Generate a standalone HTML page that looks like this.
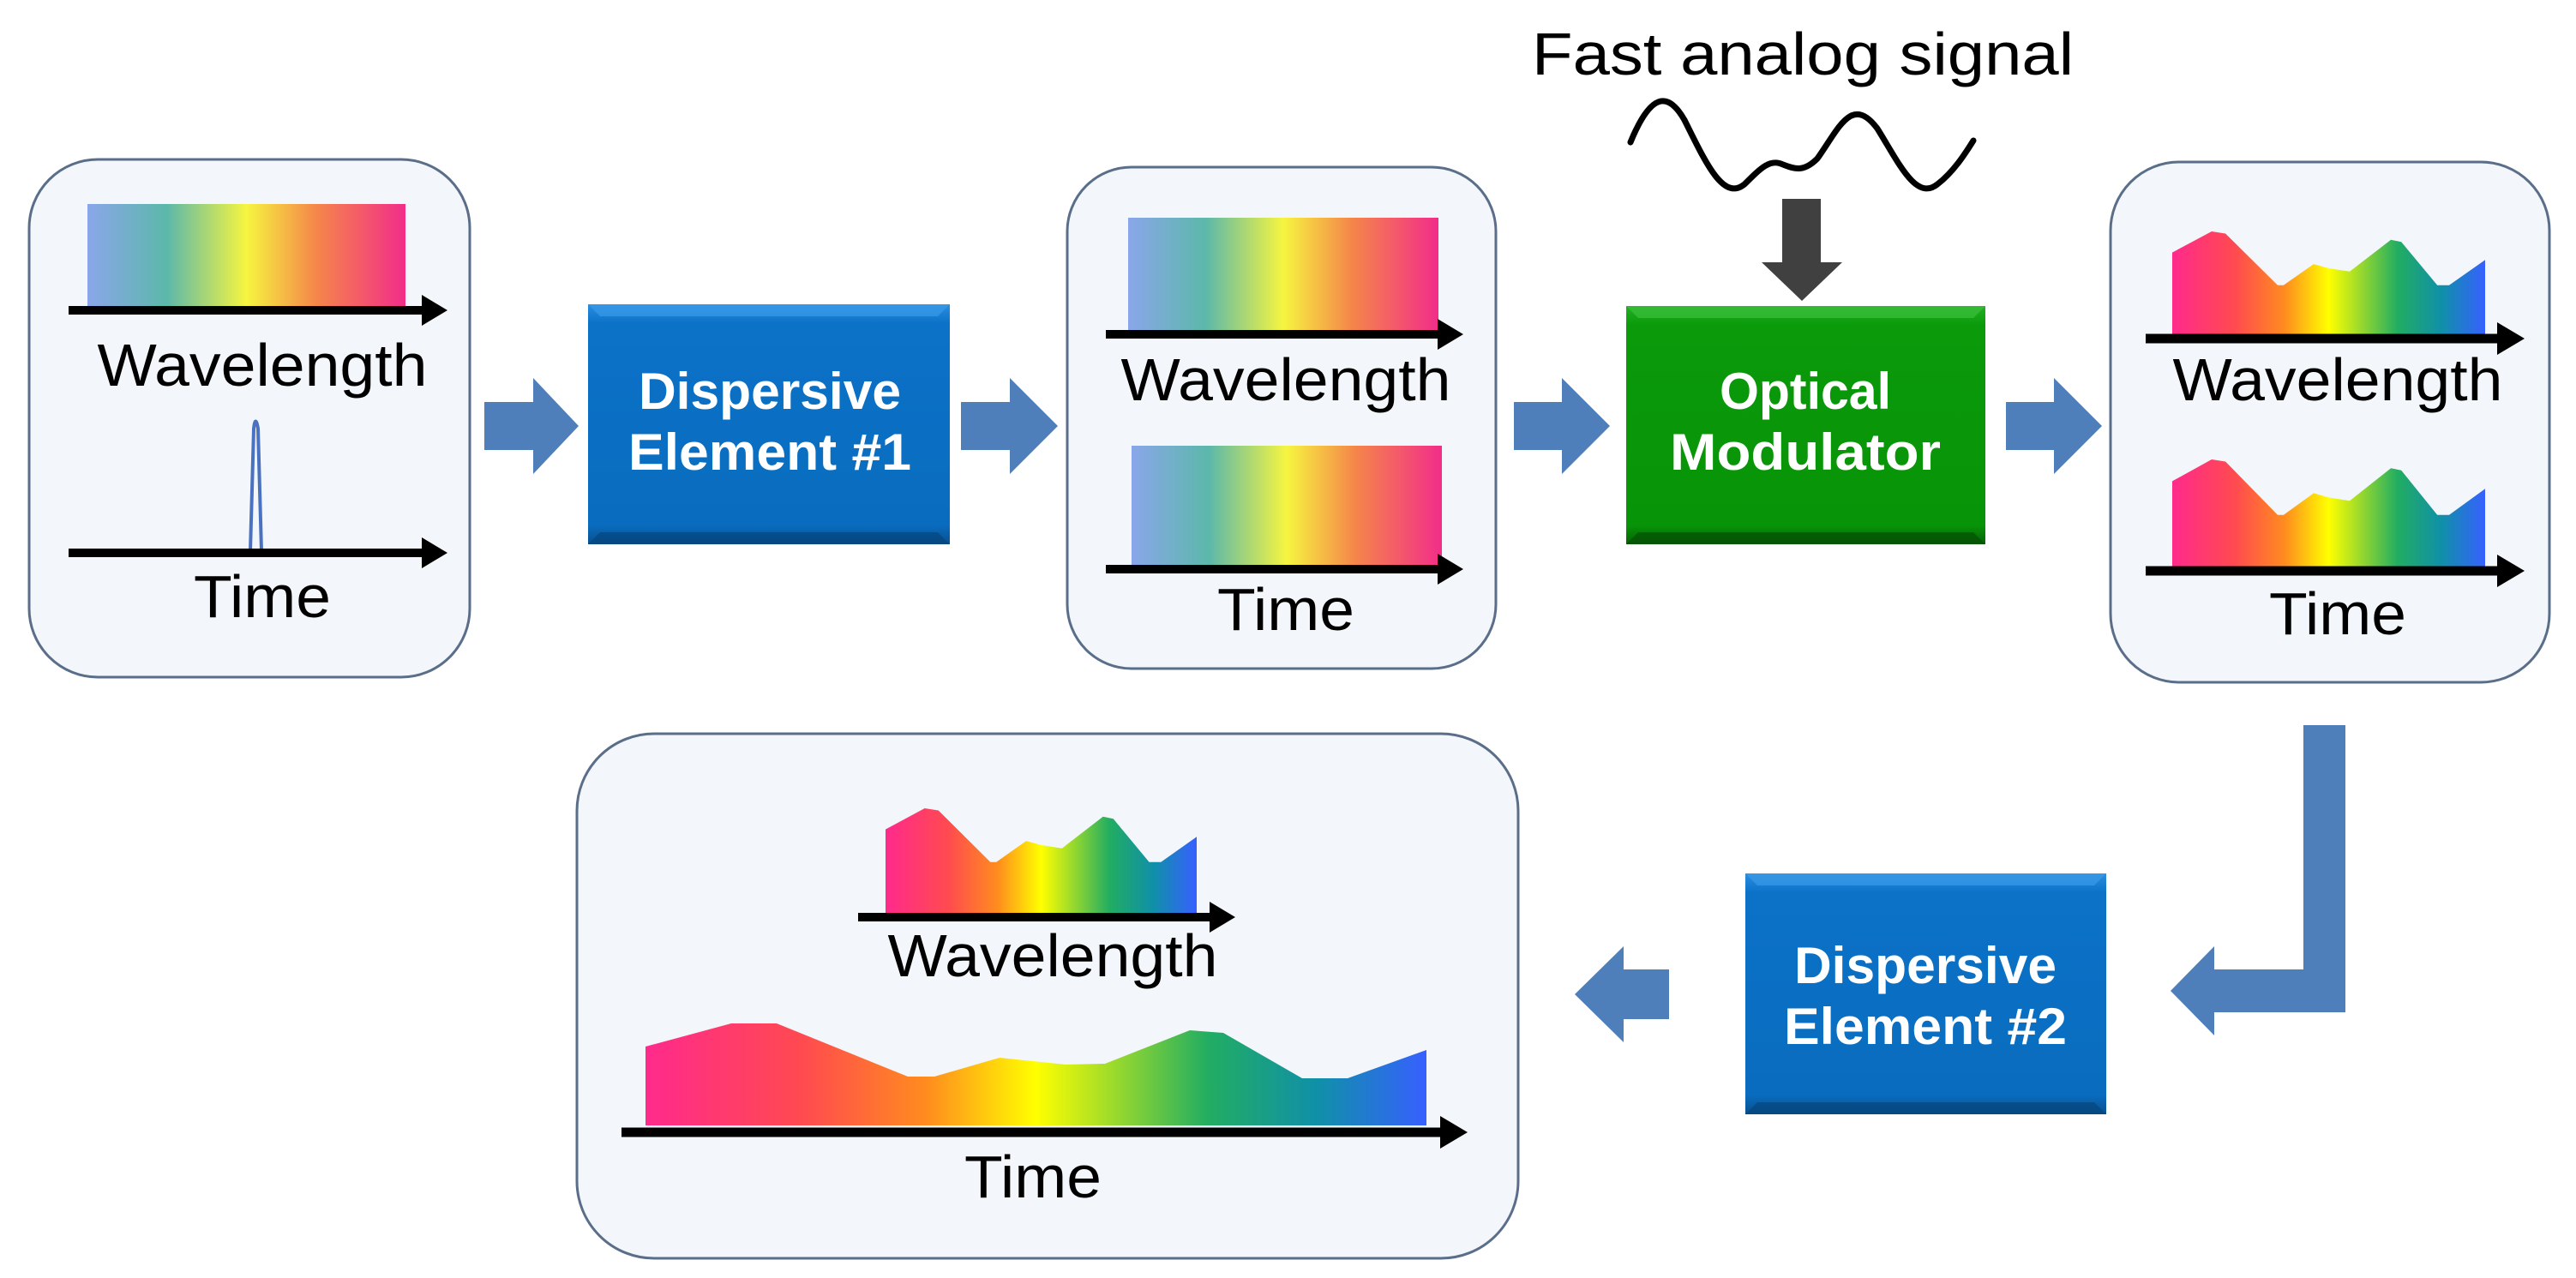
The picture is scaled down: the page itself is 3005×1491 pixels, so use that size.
<!DOCTYPE html>
<html><head><meta charset="utf-8"><style>
html,body{margin:0;padding:0;background:#fff;}
svg{display:block;}
text{font-family:"Liberation Sans",sans-serif;}
</style></head><body>
<svg id="s" width="3005" height="1491" viewBox="0 0 3005 1491" xmlns="http://www.w3.org/2000/svg">
<defs>
<linearGradient id="flat" x1="0" x2="1" y1="0" y2="0">
<stop offset="0" stop-color="#8aa6ea"/><stop offset="0.25" stop-color="#5cb8aa"/><stop offset="0.5" stop-color="#f6f540"/><stop offset="0.72" stop-color="#f5864a"/><stop offset="1" stop-color="#f22d8a"/>
</linearGradient>
<linearGradient id="spec" x1="0" x2="1" y1="0" y2="0">
<stop offset="0" stop-color="#ff2a8c"/><stop offset="0.2" stop-color="#ff4a50"/><stop offset="0.36" stop-color="#ff8c1e"/><stop offset="0.5" stop-color="#ffff00"/><stop offset="0.72" stop-color="#22ad62"/><stop offset="0.86" stop-color="#1090a8"/><stop offset="1" stop-color="#3760ff"/>
</linearGradient>
<linearGradient id="blueb" x1="0" x2="0" y1="0" y2="1">
<stop offset="0" stop-color="#2a8ee0"/><stop offset="0.08" stop-color="#0b72c8"/><stop offset="0.92" stop-color="#0a6cbe"/><stop offset="1" stop-color="#07508e"/>
</linearGradient>
<linearGradient id="greenb" x1="0" x2="0" y1="0" y2="1">
<stop offset="0" stop-color="#22b022"/><stop offset="0.08" stop-color="#0a9a0a"/><stop offset="0.92" stop-color="#089408"/><stop offset="1" stop-color="#056205"/>
</linearGradient>
</defs>

<!-- Boxes -->
<rect x="34" y="186" width="514" height="604" rx="80" fill="#f3f6fa" stroke="#5a6e8a" stroke-width="3"/>
<rect x="1245" y="195" width="500" height="585" rx="75" fill="#f3f6fa" stroke="#5a6e8a" stroke-width="3"/>
<rect x="2462" y="189" width="512" height="607" rx="80" fill="#f3f6fa" stroke="#5a6e8a" stroke-width="3"/>
<rect x="673" y="856" width="1098" height="612" rx="90" fill="#f3f6fa" stroke="#5a6e8a" stroke-width="3"/>

<!-- Box1 content -->
<rect x="102" y="238" width="371" height="122" fill="url(#flat)"/>
<path d="M292 643 L296 500 Q298 483 301 500 L305 643" fill="none" stroke="#4a72c0" stroke-width="4"/>

<!-- Box2 content -->
<rect x="1316" y="254" width="362" height="134" fill="url(#flat)"/>
<rect x="1320" y="520" width="362" height="140" fill="url(#flat)"/>

<!-- Box4 time wave -->
<path d="M753 1313 L753 1221 L853 1194 L906 1194 L1059 1256 L1090 1256 L1166 1234 L1243 1242 L1289 1241 L1388 1202 L1427 1205 L1519 1258 L1572 1258 L1664 1225 L1664 1313 Z" fill="url(#spec)"/>

<g id="waves"></g>
<g id="axes" fill="#000" stroke="none"></g>

<!-- Blue block arrows -->
<g fill="#4f7fba">
<path d="M565 469 H622 V441 L675 497 L622 553 V525 H565 Z"/>
<path d="M1121 469 H1178 V441 L1234 497 L1178 553 V525 H1121 Z"/>
<path d="M1766 469 H1822 V441 L1878 497 L1822 553 V525 H1766 Z"/>
<path d="M2340 469 H2396 V441 L2452 497 L2396 553 V525 H2340 Z"/>
<path d="M2687 846 H2736 V1181 H2583 V1208 L2532 1156 L2583 1104 V1131 H2687 Z"/>
<path d="M1947 1131 V1189 H1894 V1216 L1837 1160 L1894 1104 V1131 Z"/>
</g>

<!-- Process boxes -->
<rect x="686" y="355" width="422" height="280" fill="url(#blueb)"/>
<path d="M686 355 L700 369 H1094 L1108 355 Z" fill="#3a9ae8" opacity="0.7"/>
<path d="M686 635 L700 621 H1094 L1108 635 Z" fill="#06467e" opacity="0.7"/>
<rect x="1897" y="357" width="419" height="278" fill="url(#greenb)"/>
<path d="M1897 357 L1911 371 H2302 L2316 357 Z" fill="#3ac03a" opacity="0.7"/>
<path d="M1897 635 L1911 621 H2302 L2316 635 Z" fill="#045004" opacity="0.7"/>
<rect x="2036" y="1019" width="421" height="281" fill="url(#blueb)"/>
<path d="M2036 1019 L2050 1033 H2443 L2457 1019 Z" fill="#3a9ae8" opacity="0.7"/>
<path d="M2036 1300 L2050 1286 H2443 L2457 1300 Z" fill="#06467e" opacity="0.7"/>

<g fill="#fff" font-weight="bold" font-size="60" text-anchor="middle">
<text x="898" y="477" textLength="306" lengthAdjust="spacingAndGlyphs">Dispersive</text>
<text x="898" y="548" textLength="330" lengthAdjust="spacingAndGlyphs">Element #1</text>
<text x="2106" y="477" textLength="200" lengthAdjust="spacingAndGlyphs">Optical</text>
<text x="2106" y="548" textLength="316" lengthAdjust="spacingAndGlyphs">Modulator</text>
<text x="2246" y="1147" textLength="306" lengthAdjust="spacingAndGlyphs">Dispersive</text>
<text x="2246" y="1218" textLength="330" lengthAdjust="spacingAndGlyphs">Element #2</text>
</g>

<!-- Dark arrow & signal -->
<path d="M2079 232 H2124 V306 H2149 L2102 351 L2055 306 H2079 Z" fill="#404040"/>
<path d="M1902 166 C1925 110 1945 105 1965 140 C1990 190 2010 235 2035 215 C2055 195 2065 185 2080 192 C2095 198 2105 200 2120 185 C2145 150 2160 110 2190 150 C2215 190 2235 235 2260 215 C2280 200 2295 175 2302 164" fill="none" stroke="#000" stroke-width="7" stroke-linecap="round"/>

<g fill="#000" font-size="70" text-anchor="middle">
<text x="2103" y="87" textLength="632" lengthAdjust="spacingAndGlyphs">Fast analog signal</text>
<text x="306" y="450" textLength="385" lengthAdjust="spacingAndGlyphs">Wavelength</text>
<text x="306" y="720" textLength="160" lengthAdjust="spacingAndGlyphs">Time</text>
<text x="1500" y="467" textLength="385" lengthAdjust="spacingAndGlyphs">Wavelength</text>
<text x="1500" y="735" textLength="160" lengthAdjust="spacingAndGlyphs">Time</text>
<text x="2727" y="467" textLength="385" lengthAdjust="spacingAndGlyphs">Wavelength</text>
<text x="2727" y="740" textLength="160" lengthAdjust="spacingAndGlyphs">Time</text>
<text x="1228" y="1139" textLength="385" lengthAdjust="spacingAndGlyphs">Wavelength</text>
<text x="1205" y="1397" textLength="160" lengthAdjust="spacingAndGlyphs">Time</text>
</g>
</svg>
<script>
(function(){
var NS="http://www.w3.org/2000/svg";
var xs=[0,.126,.170,.337,.356,.452,.501,.567,.699,.732,.847,.885,1];
var ys=[.80,1.0,.98,.49,.49,.69,.65,.62,.92,.90,.49,.49,.73];
function wave(x0,x1,top,base){
 var w=x1-x0,h=base-top,d="M"+x0+" "+base;
 for(var i=0;i<xs.length;i++){d+=" L"+(x0+xs[i]*w).toFixed(1)+" "+(base-ys[i]*h).toFixed(1);}
 d+=" L"+x1+" "+base+" Z";
 var p=document.createElementNS(NS,"path");p.setAttribute("d",d);p.setAttribute("fill","url(#spec)");
 document.getElementById("waves").appendChild(p);
}
wave(2534,2899,270,393);
wave(2534,2899,536,663);
wave(1033,1396,943,1066);
function axis(x0,x1,y,t,hl,hh){
 var g=document.getElementById("axes");
 var p=document.createElementNS(NS,"path");
 p.setAttribute("d","M"+x0+" "+(y-t/2)+" H"+(x1-hl)+" V"+(y-hh)+" L"+x1+" "+y+" L"+(x1-hl)+" "+(y+hh)+" V"+(y+t/2)+" H"+x0+" Z");
 g.appendChild(p);
}
axis(80,522,362,10,30,18);
axis(80,522,645,10,30,18);
axis(1290,1707,390,10,30,18);
axis(1290,1707,664,10,30,18);
axis(2503,2945,395,11,32,19);
axis(2503,2945,666,11,32,19);
axis(1001,1441,1070,10,30,18);
axis(725,1712,1321,11,32,19);
})();
</script>
</body></html>
